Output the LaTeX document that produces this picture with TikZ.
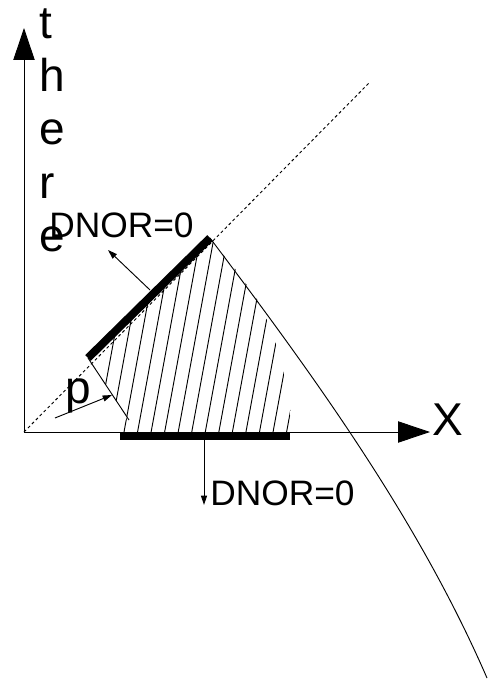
\documentclass[tikz,border=0pt]{standalone}
\usepackage{fontspec}
\setmainfont{Liberation Sans}
\usetikzlibrary{arrows.meta}
\tikzset{
   axis/.style={draw=black, line width=0.7pt, -{Triangle[length=24pt,width=16pt]}},
   limit/.style={draw=black, line width=6pt},
   hatch/.style={draw=black, line width=0.7pt},
   thin line/.style={draw=black, line width=0.7pt},
   diag/.style={draw=black, line width=0.7pt, dash pattern=on 2.2pt off 2pt},
   pointer/.style={draw=black, line width=0.7pt, -{Triangle[length=7pt,width=4.5pt]}},
   big label/.style={font=\fontsize{34.5}{40}\selectfont, inner sep=0pt},
   small label/.style={font=\fontsize{26.5}{30}\selectfont, inner sep=0pt}
}
\begin{document}
\begin{tikzpicture}[x=0.75pt,y=0.75pt]
  \useasboundingbox (-24,-257) rectangle (464,432);

  \coordinate (origin)     at (0,0);
  \coordinate (y end)      at (0,404);
  \coordinate (x end)      at (406,0);
  \coordinate (diag end)   at (346,350);
  \coordinate (upper lo)   at (64,74);
  \coordinate (upper hi)   at (186,194);
  \coordinate (slant end)  at (105,12);
  \coordinate (lower lo)   at (96,-4);
  \coordinate (lower hi)   at (266,-4);
  \coordinate (curve end)  at (463,-246);
  \coordinate (upper foot) at (126,142);
  \coordinate (upper tip)  at (84,182);
  \coordinate (lower foot) at (180,-8);
  \coordinate (lower tip)  at (180,-73);
  \coordinate (p foot)     at (31,14);
  \coordinate (p tip)      at (88,37);

  % hatched region
  \begin{scope}
    \clip (upper lo) -- (103,15) -- (97,0) -- (268,0)
      -- plot[smooth] coordinates {(268,0) (264,40) (252,88) (234,131) (212,162) (186,194)} -- cycle;
    \foreach \k in {-2,...,12}
      \draw[hatch] ({100+13.55*\k},0) -- ++(46,250);
  \end{scope}

  \draw[diag] (origin) -- (diag end);
  \draw[axis] (origin) -- (y end);
  \draw[axis] (origin) -- (x end);

  \draw[thin line] (upper lo) -- (slant end);
  \draw[thin line] (upper hi) .. controls (290,56) and (394,-87) .. (curve end);

  \draw[limit] (upper lo) -- (upper hi);
  \draw[limit] (lower lo) -- (lower hi);

  \node[big label, anchor=base west] (x label) at (408,-3) {X};
  \node[big label, align=left, anchor=north west] (y label) at (15,424) {t\\h\\e\\r\\e};
  \node[big label, anchor=base west] (p label) at (41,29) {p};
  \node[small label, anchor=base west] (upper dnor) at (25,194) {DNOR=0};
  \node[small label, anchor=base west] (lower dnor) at (186,-73) {DNOR=0};

  \draw[pointer] (upper foot) -- (upper tip);
  \draw[pointer] (lower foot) -- (lower tip);
  \draw[pointer] (p foot) -- (p tip);
\end{tikzpicture}
\end{document}
